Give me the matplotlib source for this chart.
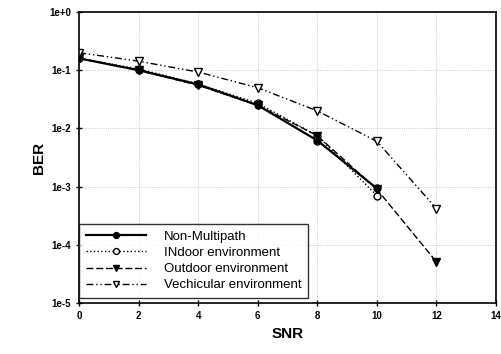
import matplotlib
matplotlib.use('Agg')
import matplotlib.pyplot as plt
import matplotlib.ticker as mticker

plt.rcParams['font.family'] = ['Liberation Sans', 'DejaVu Sans']

# BER vs SNR
snr_nm = [0, 2, 4, 6, 8, 10]
ber_nm = [0.16, 0.10, 0.057, 0.025, 0.0062, 0.00093]

snr_in = [0, 2, 4, 6, 8, 10]
ber_in = [0.16, 0.105, 0.058, 0.027, 0.0075, 0.0007]

snr_out = [0, 2, 4, 6, 8, 10, 12]
ber_out = [0.16, 0.10, 0.055, 0.025, 0.0075, 0.0009, 5.1e-5]

snr_veh = [0, 2, 4, 6, 8, 10, 12]
ber_veh = [0.20, 0.143, 0.093, 0.05, 0.02, 0.006, 0.00042]

x_ticks = [0, 2, 4, 6, 8, 10, 12, 14]
y_ticks = [1e-5, 1e-4, 1e-3, 1e-2, 1e-1, 1e0]
y_labels = ['1e-5', '1e-4', '1e-3', '1e-2', '1e-1', '1e+0']

fig = plt.figure(figsize=(5.01, 3.54), dpi=100)
ax = fig.add_axes([0.158, 0.144, 0.832, 0.822])

ax.plot(snr_nm, ber_nm, color='black', lw=1.6, ls='-', marker='o',
        ms=5, mfc='black', label='Non-Multipath')
ax.plot(snr_in, ber_in, color='black', lw=1.0, ls=':', marker='o',
        ms=5, mfc='white', label='INdoor environment')
ax.plot(snr_out, ber_out, color='black', lw=1.0, ls='--', dashes=(5, 2),
        marker='v', ms=5.5, mfc='black', label='Outdoor environment')
ax.plot(snr_veh, ber_veh, color='black', lw=1.0, ls=(0, (5, 2, 1, 2, 1, 2)),
        marker='v', ms=5.5, mfc='white', label='Vechicular environment')

ax.set_yscale('log')
ax.set_xlim(0, 14)
ax.set_ylim(1e-5, 1)
ax.set_xticks(x_ticks)
ax.set_xticklabels([str(t) for t in x_ticks], fontsize=7, fontweight='bold')
ax.set_yticks(y_ticks)
ax.set_yticklabels(y_labels, fontsize=7, fontweight='bold')
ax.yaxis.set_minor_locator(mticker.NullLocator())
ax.tick_params(direction='inout', length=5, width=1)

ax.grid(True, ls=':', color='#bbbbbb', lw=0.6)
for s in ax.spines.values():
    s.set_linewidth(1.2)

ax.set_xlabel('SNR', fontsize=11, fontweight='bold', labelpad=4)
ax.set_ylabel('BER', fontsize=11, fontweight='bold', labelpad=2)

leg = ax.legend(loc='lower left', bbox_to_anchor=(0.0, 0.017), fontsize=9.5,
                handlelength=4.6, handletextpad=1.3, frameon=True,
                fancybox=False, edgecolor='black', borderaxespad=0,
                labelspacing=0.3, borderpad=0.5, markerscale=0.85)
leg.get_frame().set_linewidth(1.0)

plt.savefig('out.png', dpi=100)
plt.close()
